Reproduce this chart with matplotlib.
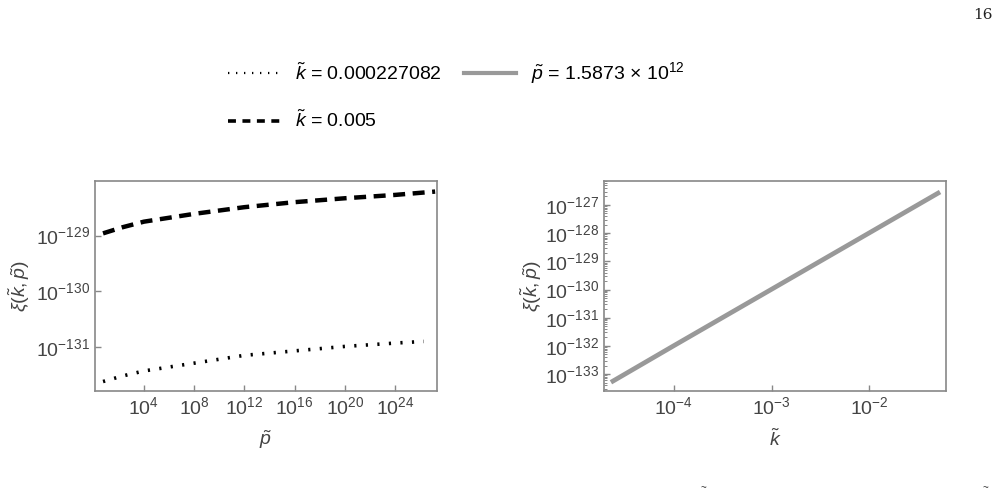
import matplotlib
matplotlib.use("Agg")
import matplotlib.pyplot as plt
from matplotlib.ticker import FixedLocator, NullLocator, LogFormatterMathtext, LogLocator
from matplotlib.lines import Line2D
import numpy as np

plt.rcParams['font.family'] = ['Liberation Sans', 'DejaVu Sans']
plt.rcParams['mathtext.fontset'] = 'custom'
plt.rcParams['mathtext.rm'] = 'Liberation Sans'
plt.rcParams['mathtext.it'] = 'Liberation Sans:italic'
plt.rcParams['mathtext.bf'] = 'Liberation Sans:bold'

# ---- data (log10 values) ----
# left panel: xi vs p for two k values
p_exp_dotted = [0.74, 2.3, 4, 8, 12, 16, 20, 24, 26.3]
xi_exp_dotted = [-131.62, -131.52, -131.43, -131.29, -131.15, -131.07, -130.99, -130.93, -130.90]
p_exp_dashed = [0.74, 2.3, 4, 8, 12, 16, 20, 24, 27.2]
xi_exp_dashed = [-128.96, -128.85, -128.75, -128.61, -128.49, -128.40, -128.33, -128.27, -128.21]

# right panel: xi vs k for fixed p
k_exp_gray = [-4.645, -4.0, -3.0, -2.0, -1.276]
xi_exp_gray = [-133.29, -131.99, -129.99, -127.99, -126.54]

labels = [r"$\tilde{k}$ = 0.000227082", r"$\tilde{k}$ = 0.005",
          r"$\tilde{p}$ = 1.5873 $\times$ 10$^{12}$"]

FRAME = "#888888"
TXT = "#444444"
GRAY = "#999999"


def style_axes(ax):
    for s in ax.spines.values():
        s.set_color(FRAME)
        s.set_linewidth(1.2)
    ax.tick_params(which='both', direction='in', color=FRAME, labelcolor=TXT,
                   labelsize=14, top=False, right=False)
    ax.tick_params(which='major', length=4, width=1)
    ax.tick_params(which='minor', length=2, width=0.7)


fig = plt.figure(figsize=(10, 4.99), dpi=100)

# left panel
ax1 = fig.add_axes([0.095, 1 - 391 / 499, 0.342, 210 / 499])
ax1.set_xscale('log')
ax1.set_yscale('log')
ax1.plot(10.0 ** np.array(p_exp_dotted), 10.0 ** np.array(xi_exp_dotted),
         color='black', lw=2.6, linestyle=(0, (0.6, 2.6)))
ax1.plot(10.0 ** np.array(p_exp_dashed), 10.0 ** np.array(xi_exp_dashed),
         color='black', lw=3.2, linestyle=(0, (2.7, 1.7)))
ax1.set_xlim(10 ** 0.1, 10 ** 27.35)
ax1.set_ylim(10 ** -131.79, 10 ** -128.02)
ax1.xaxis.set_major_locator(FixedLocator([1e4, 1e8, 1e12, 1e16, 1e20, 1e24]))
ax1.xaxis.set_minor_locator(NullLocator())
ax1.yaxis.set_major_locator(FixedLocator([1e-131, 1e-130, 1e-129]))
ax1.yaxis.set_minor_locator(NullLocator())
ax1.xaxis.set_major_formatter(LogFormatterMathtext())
ax1.yaxis.set_major_formatter(LogFormatterMathtext())
style_axes(ax1)
ax1.set_xlabel(r"$\tilde{p}$", fontsize=14, color=TXT, labelpad=8)
ax1.set_ylabel(r"$\xi(\tilde{k},\tilde{p})$", fontsize=14, color=TXT, labelpad=3)

# right panel
ax2 = fig.add_axes([0.604, 1 - 391 / 499, 0.342, 210 / 499])
ax2.set_xscale('log')
ax2.set_yscale('log')
ax2.plot(10.0 ** np.array(k_exp_gray), 10.0 ** np.array(xi_exp_gray),
         color=GRAY, lw=3.4, solid_capstyle='butt')
ax2.set_xlim(10 ** -4.716, 10 ** -1.215)
ax2.set_ylim(10 ** -133.6, 10 ** -126.15)
ax2.xaxis.set_major_locator(FixedLocator([1e-4, 1e-3, 1e-2]))
ax2.xaxis.set_minor_locator(NullLocator())
ax2.yaxis.set_major_locator(FixedLocator([10.0 ** e for e in range(-133, -126)]))
ax2.yaxis.set_minor_locator(LogLocator(base=10, subs=np.arange(2, 10), numticks=50))
ax2.xaxis.set_major_formatter(LogFormatterMathtext())
ax2.yaxis.set_major_formatter(LogFormatterMathtext())
style_axes(ax2)
ax2.set_xlabel(r"$\tilde{k}$", fontsize=14, color=TXT, labelpad=8)
ax2.set_ylabel(r"$\xi(\tilde{k},\tilde{p})$", fontsize=14, color=TXT, labelpad=1)

# legend on top
handles = [
    Line2D([], [], color='black', lw=1.6, linestyle=(0, (0.6, 3.0))),
    Line2D([], [], color='black', lw=2.6, linestyle=(0, (2.2, 1.8))),
    Line2D([], [], color=GRAY, lw=3.0),
]
fig.legend(handles, labels, ncol=2, loc='center', bbox_to_anchor=(0.4565, 1 - 96 / 499),
           frameon=False, fontsize=14, handlelength=2.7, handletextpad=0.75,
           columnspacing=1.1, labelspacing=1.35)

# page number and cropped fragments from the page
fig.text(0.983, 1 - 15 / 499, "16", family='DejaVu Serif', fontsize=11,
         ha='center', va='center', color='#222222')
fig.text(0.703, 1 - 488 / 499, "~", fontsize=7, ha='center', va='center', color='#333333')
fig.text(0.985, 1 - 488 / 499, "~", fontsize=7, ha='center', va='center', color='#333333')

fig.savefig("out.png", dpi=100)
